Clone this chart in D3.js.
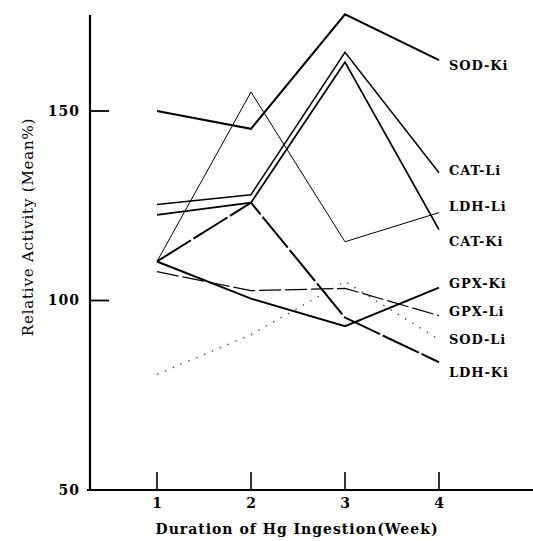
<!DOCTYPE html>
<html><head><meta charset="utf-8">
<script src="https://cdn.jsdelivr.net/npm/d3@7"></script>
<style>body{margin:0;background:#fff}svg{display:block}</style>
</head><body>
<script>
// ---- data ----
const weeks = [1, 2, 3, 4];
const seriesNames = ["SOD-Ki", "CAT-Li", "LDH-Li", "CAT-Ki", "GPX-Ki", "GPX-Li", "SOD-Li", "LDH-Ki"];
const sodKi = [150, 145.3, 175.5, 163.4];
const catLi = [125.3, 127.9, 165.5, 133.7];
const ldhLi = [110.3, 155, 115.5, 123.2];
const catKi = [122.6, 125.8, 162.9, 118.7];
const gpxKi = [110.3, 100.5, 93.2, 103.4];
const gpxLi = [107.6, 102.6, 103.2, 96];
const sodLi = [80.5, 91, 105, 89.7];
const ldhKi = [110.3, 125.8, 95.5, 83.7];
const labelAt = [162.1, 134.4, 124.7, 115.7, 104.6, 97, 89.8, 81.1];
const yTicks = [50, 100, 150];
const xTickLabels = ["1", "2", "3", "4"];

const values = [sodKi, catLi, ldhLi, catKi, gpxKi, gpxLi, sodLi, ldhKi];
const styles = [
  {w: 2, dash: null},
  {w: 1.5, dash: null},
  {w: 1, dash: null},
  {w: 1.8, dash: null},
  {w: 2, dash: null},
  {w: 1.2, dash: "22,4"},
  {w: 1.3, dash: "1.5,7"},
  {w: 2, dash: "40,3"}
];

const W = 533, H = 541;
const svg = d3.select("body").append("svg").attr("width", W).attr("height", H);

const x = d3.scaleLinear().domain([1, 4]).range([157, 439]);
const y = d3.scaleLinear().domain([50, 150]).range([490, 111]);

const serif = "'DejaVu Serif', 'Liberation Serif', serif";
svg.append("line").attr("x1", 90).attr("x2", 90).attr("y1", y(175.3)).attr("y2", y(50) + 1)
  .attr("stroke", "#000").attr("stroke-width", 2.2);
svg.append("line").attr("x1", 87).attr("x2", 533).attr("y1", y(50)).attr("y2", y(50))
  .attr("stroke", "#000").attr("stroke-width", 2);

// y ticks
yTicks.forEach(v => {
  if (v !== 50) {
    svg.append("line").attr("x1", 90).attr("x2", 109).attr("y1", y(v)).attr("y2", y(v))
      .attr("stroke", "#000").attr("stroke-width", 1.8);
  }
  svg.append("text").attr("x", 80).attr("y", y(v)).attr("dy", "0.35em")
    .attr("text-anchor", "end").attr("font-family", serif).attr("font-weight", "bold")
    .attr("font-size", 14).attr("letter-spacing", 1).text(v);
});

// x ticks
weeks.forEach((w, i) => {
  svg.append("line").attr("x1", x(w)).attr("x2", x(w)).attr("y1", y(50) - 18).attr("y2", y(50))
    .attr("stroke", "#000").attr("stroke-width", 1.6);
  svg.append("text").attr("x", x(w)).attr("y", 503).attr("dy", "0.35em")
    .attr("text-anchor", "middle").attr("font-family", serif).attr("font-weight", "bold")
    .attr("font-size", 14).text(xTickLabels[i]);
});

// axis titles
svg.append("text").attr("x", 297).attr("y", 529).attr("dy", "0.35em")
  .attr("text-anchor", "middle").attr("font-family", serif).attr("font-weight", "bold")
  .attr("font-size", 14).attr("letter-spacing", 1).text("Duration of Hg Ingestion(Week)");
svg.append("text").attr("transform", "translate(28,227) rotate(-90)").attr("dy", "0.35em")
  .attr("text-anchor", "middle").attr("font-family", serif)
  .attr("font-size", 15).attr("letter-spacing", 0.8).text("Relative Activity (Mean%)");

// series lines
const line = d3.line().x((d, i) => x(weeks[i])).y(d => y(d));
values.forEach((vals, k) => {
  svg.append("path").datum(vals).attr("d", line)
    .attr("fill", "none").attr("stroke", k === 6 ? "#444" : "#000")
    .attr("stroke-width", styles[k].w)
    .attr("stroke-linejoin", "miter")
    .attr("stroke-dasharray", styles[k].dash);
  svg.append("text").attr("x", 449).attr("y", y(labelAt[k])).attr("dy", "0.35em")
    .attr("font-family", serif).attr("font-weight", "bold").attr("font-size", 13)
    .attr("letter-spacing", 0.9).text(seriesNames[k]);
});
</script>
</body></html>
